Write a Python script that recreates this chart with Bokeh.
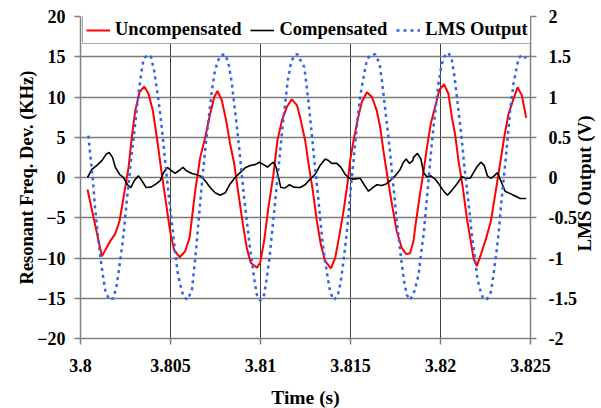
import math
from bokeh.plotting import figure
from bokeh.models import (Range1d, LinearAxis, FixedTicker, Legend, LegendItem, Label)
from bokeh.embed import file_html
from bokeh.resources import INLINE

# ---------------- data ----------------
t_unc = [3.80039, 3.80119, 3.80165, 3.80193, 3.80217, 3.80239, 3.80267, 3.80285, 3.80304, 3.80328,
         3.80354, 3.80378, 3.80402, 3.80424, 3.80452, 3.80476, 3.80498, 3.80520, 3.80550, 3.80581,
         3.80606, 3.80637, 3.80665, 3.80693, 3.80720, 3.80743, 3.80761, 3.80785, 3.80809, 3.80831,
         3.80854, 3.80878, 3.80902, 3.80924, 3.80946, 3.80980, 3.80998, 3.81020, 3.81044, 3.81072,
         3.81094, 3.81119, 3.81146, 3.81174, 3.81202, 3.81220, 3.81248, 3.81267, 3.81291, 3.81313,
         3.81335, 3.81359, 3.81391, 3.81415, 3.81439, 3.81461, 3.81483, 3.81498, 3.81517, 3.81539,
         3.81563, 3.81591, 3.81619, 3.81646, 3.81665, 3.81683, 3.81706, 3.81730, 3.81757, 3.81785,
         3.81809, 3.81831, 3.81850, 3.81859, 3.81883, 3.81906, 3.81928, 3.81946, 3.81970, 3.81994,
         3.82020, 3.82044, 3.82063, 3.82081, 3.82100, 3.82124, 3.82146, 3.82165, 3.82183, 3.82202,
         3.82224, 3.82254, 3.82280, 3.82304, 3.82328, 3.82354, 3.82378, 3.82406, 3.82428, 3.82452,
         3.82476]
unc = [-1.5, -9.8, -7.9, -7.0, -5.4, -2.5, 1.25, 5.0, 8.3, 10.6,
       11.3, 10.4, 8.3, 5.0, 0.4, -3.3, -6.7, -9.0, -9.9, -9.2,
       -7.5, -1.7, 2.5, 5.0, 7.9, 10.0, 10.75, 9.6, 7.1, 4.2,
       1.7, -2.1, -5.8, -8.75, -10.6, -11.2, -10.6, -7.9, -3.75, 0.4,
       4.6, 7.1, 8.75, 9.7, 9.0, 7.5, 4.6, 1.7, -1.7, -5.4,
       -8.3, -10.4, -11.3, -10.0, -7.1, -4.2, -0.8, 2.1, 4.6, 7.1,
       9.4, 10.6, 10.0, 8.3, 6.25, 3.3, 0.0, -3.3, -6.7, -8.75,
       -9.5, -9.4, -7.9, -6.25, -2.5, 0.8, 4.2, 6.7, 8.75, 10.9,
       11.6, 10.4, 7.5, 5.4, 2.1, -1.25, -5.0, -7.5, -10.0, -11.0,
       -9.6, -7.5, -5.4, -2.1, 1.25, 5.0, 7.9, 9.8, 11.2, 10.2,
       7.4]

t_comp = [3.80039, 3.80063, 3.80091, 3.80119, 3.80143, 3.80159, 3.80178, 3.80193, 3.80217, 3.80239,
          3.80261, 3.80280, 3.80298, 3.80322, 3.80341, 3.80365, 3.80391, 3.80420, 3.80443, 3.80461,
          3.80483, 3.80502, 3.80526, 3.80550, 3.80569, 3.80591, 3.80619, 3.80637, 3.80665, 3.80693,
          3.80720, 3.80748, 3.80776, 3.80804, 3.80831, 3.80859, 3.80887, 3.80915, 3.80943, 3.80970,
          3.80994, 3.81017, 3.81039, 3.81054, 3.81072, 3.81087, 3.81100, 3.81113, 3.81137, 3.81161,
          3.81183, 3.81211, 3.81220, 3.81248, 3.81276, 3.81304, 3.81331, 3.81359, 3.81378, 3.81396,
          3.81424, 3.81446, 3.81470, 3.81494, 3.81517, 3.81554, 3.81576, 3.81600, 3.81624, 3.81646,
          3.81674, 3.81698, 3.81720, 3.81748, 3.81776, 3.81794, 3.81809, 3.81828, 3.81846, 3.81850,
          3.81872, 3.81891, 3.81906, 3.81924, 3.81946, 3.81970, 3.81994, 3.82017, 3.82039, 3.82063,
          3.82091, 3.82119, 3.82143, 3.82165, 3.82183, 3.82202, 3.82224, 3.82243, 3.82261, 3.82280,
          3.82298, 3.82317, 3.82335, 3.82359, 3.82387, 3.82415, 3.82443, 3.82476]
comp = [0.0, 1.0, 1.5, 2.1, 2.9, 3.1, 2.5, 1.3, 0.4, 0.0,
        -0.9, -1.25, -0.4, 0.2, -0.4, -1.25, -1.2, -0.8, -0.4, 0.6,
        1.25, 0.9, 0.5, 0.9, 1.25, 0.8, 0.5, 0.4, 0.2, -0.4,
        -1.25, -1.9, -2.2, -1.9, -0.8, 0.0, 0.6, 1.2, 1.5, 1.6,
        1.9, 1.6, 1.3, 1.6, 1.9, 1.25, 0.0, -1.25, -1.3, -0.9,
        -1.2, -1.25, -1.25, -0.9, -0.2, 0.4, 1.5, 2.3, 2.1, 1.75,
        1.75, 1.3, 0.4, -0.1, -0.2, -0.1, -0.9, -1.7, -1.25, -0.9,
        -1.0, -0.8, -0.4, 0.2, 1.0, 1.9, 2.3, 1.75, 2.1, 2.5,
        3.0, 2.3, 0.6, 0.1, 0.2, -0.2, -0.9, -1.7, -2.2, -1.6,
        -0.8, 0.1, -0.1, -0.1, 0.6, 1.3, 1.9, 1.5, 0.2, -0.1,
        0.2, 0.6, -0.4, -1.7, -2.0, -2.3, -2.6, -2.6]

t_lms = [3.80044, 3.80054, 3.80069, 3.80081, 3.80094, 3.80109, 3.80124, 3.80139, 3.80161, 3.80183,
         3.80202, 3.80220, 3.80235, 3.80248, 3.80261, 3.80276, 3.80291, 3.80306, 3.80322, 3.80337,
         3.80350, 3.80369, 3.80391, 3.80409, 3.80428, 3.80443, 3.80457, 3.80470, 3.80483, 3.80498,
         3.80513, 3.80526, 3.80539, 3.80554, 3.80572, 3.80594, 3.80619, 3.80643, 3.80656, 3.80669,
         3.80683, 3.80698, 3.80715, 3.80730, 3.80744, 3.80761, 3.80780, 3.80804, 3.80822, 3.80841,
         3.80856, 3.80869, 3.80883, 3.80896, 3.80909, 3.80924, 3.80939, 3.80954, 3.80967, 3.80980,
         3.80998, 3.81020, 3.81035, 3.81050, 3.81063, 3.81076, 3.81091, 3.81106, 3.81120, 3.81137,
         3.81152, 3.81169, 3.81187, 3.81206, 3.81230, 3.81243, 3.81257, 3.81270, 3.81281, 3.81294,
         3.81307, 3.81319, 3.81331, 3.81344, 3.81359, 3.81374, 3.81387, 3.81406, 3.81428, 3.81446,
         3.81461, 3.81476, 3.81489, 3.81502, 3.81517, 3.81531, 3.81544, 3.81559, 3.81576, 3.81591,
         3.81609, 3.81637, 3.81661, 3.81674, 3.81687, 3.81702, 3.81717, 3.81730, 3.81743, 3.81757,
         3.81772, 3.81785, 3.81798, 3.81813, 3.81831, 3.81854, 3.81878, 3.81891, 3.81906, 3.81920,
         3.81933, 3.81946, 3.81961, 3.81976, 3.81989, 3.82004, 3.82020, 3.82044, 3.82063, 3.82078,
         3.82091, 3.82104, 3.82119, 3.82131, 3.82146, 3.82161, 3.82174, 3.82189, 3.82202, 3.82217,
         3.82235, 3.82257, 3.82280, 3.82294, 3.82309, 3.82322, 3.82335, 3.82350, 3.82365, 3.82378,
         3.82391, 3.82406, 3.82420, 3.82433, 3.82452, 3.82476]
lms = [0.52, 0.29, -0.04, -0.375, -0.67, -0.96, -1.21, -1.42, -1.52, -1.5,
       -1.33, -1.04, -0.79, -0.5, -0.21, 0.125, 0.42, 0.71, 1.04, 1.29,
       1.46, 1.52, 1.5, 1.33, 1.04, 0.79, 0.5, 0.21, -0.08, -0.375,
       -0.67, -0.92, -1.17, -1.33, -1.48, -1.52, -1.4, -0.875, -0.54, -0.21,
       0.125, 0.46, 0.79, 1.08, 1.29, 1.44, 1.52, 1.53, 1.42, 1.17,
       0.875, 0.625, 0.33, 0.04, -0.25, -0.54, -0.83, -1.08, -1.29, -1.46,
       -1.53, -1.46, -1.25, -1.0, -0.71, -0.42, -0.08, 0.25, 0.58, 0.92,
       1.21, 1.42, 1.52, 1.53, 1.42, 1.375, 1.125, 0.875, 0.625, 0.33,
       0.04, -0.21, -0.5, -0.79, -1.04, -1.25, -1.42, -1.52, -1.48, -1.29,
       -1.04, -0.75, -0.46, -0.125, 0.21, 0.54, 0.83, 1.08, 1.29, 1.46,
       1.52, 1.53, 1.42, 1.21, 0.96, 0.67, 0.375, 0.08, -0.21, -0.54,
       -0.83, -1.08, -1.29, -1.46, -1.52, -1.42, -1.21, -0.96, -0.71, -0.375,
       -0.04, 0.29, 0.625, 0.92, 1.17, 1.375, 1.5, 1.55, 1.46, 1.25,
       1.0, 0.75, 0.46, 0.17, -0.125, -0.42, -0.71, -0.96, -1.21, -1.375,
       -1.49, -1.52, -1.42, -1.21, -0.96, -0.71, -0.375, -0.04, 0.29, 0.625,
       0.92, 1.17, 1.33, 1.48, 1.52, 1.48]

x_ticks = [3.8, 3.805, 3.81, 3.815, 3.82, 3.825]
x_tick_labels = ["3.8", "3.805", "3.81", "3.815", "3.82", "3.825"]
y_ticks = [-20, -15, -10, -5, 0, 5, 10, 15, 20]
y2_ticks = [-2, -1.5, -1, -0.5, 0, 0.5, 1, 1.5, 2]
y2_tick_labels = ["-2", "-1.5", "-1", "-0.5", "0", "0.5", "1", "1.5", "2"]

series_names = ["Uncompensated", "Compensated", "LMS Output"]
x_title = "Time (s)"
y_title = "Resonant Freq. Dev. (KHz)"
y2_title = "LMS Output (V)"

# ---------------- figure ----------------
FONT = "Liberation Serif"
FW, FH = 450, 322

p = figure(frame_width=FW, frame_height=FH,
           x_range=Range1d(3.8, 3.825), y_range=Range1d(-20, 20),
           output_backend="svg", toolbar_location=None,
           min_border_left=80, min_border_right=68, min_border_top=16, min_border_bottom=20)
p.extra_y_ranges = {"v": Range1d(-2, 2)}
p.outline_line_color = None
p.background_fill_color = "white"
p.border_fill_color = "white"


def style_axis(ax):
    ax.axis_line_color = "#808080"
    ax.axis_line_width = 1.5
    ax.major_tick_line_color = "#808080"
    ax.major_tick_line_width = 1.5
    ax.major_tick_out = 6
    ax.major_tick_in = 0
    ax.minor_tick_line_color = None
    ax.major_label_text_font = FONT
    ax.major_label_text_font_style = "bold"
    ax.major_label_text_font_size = "18px"
    ax.major_label_text_color = "black"
    ax.axis_label_text_font = FONT
    ax.axis_label_text_font_style = "bold"
    ax.axis_label_text_font_size = "19.5px"
    ax.axis_label_text_color = "black"


xa = p.xaxis[0]
xa.ticker = FixedTicker(ticks=x_ticks)
xa.major_label_overrides = {t: s for t, s in zip(x_ticks, x_tick_labels)}
xa.axis_label = x_title
xa.major_label_standoff = 14
xa.axis_label_standoff = 12
style_axis(xa)

ya = p.yaxis[0]
ya.ticker = FixedTicker(ticks=y_ticks)
ya.axis_label = y_title
ya.major_label_standoff = 9
ya.axis_label_standoff = -3
style_axis(ya)
ya.axis_label_text_font_size = "18.5px"

ya2 = LinearAxis(y_range_name="v", ticker=FixedTicker(ticks=y2_ticks))
ya2.major_label_overrides = {t: s for t, s in zip(y2_ticks, y2_tick_labels)}
ya2.major_label_standoff = 12
style_axis(ya2)
p.add_layout(ya2, "right")

# right-hand title, reading bottom-to-top, centred on the frame height
p.add_layout(Label(x=5, y=FH / 2 - 6, x_units="screen", y_units="screen",
                   text=y2_title, angle=90, angle_units="deg",
                   text_align="center", text_baseline="middle",
                   text_font=FONT, text_font_style="bold", text_font_size="19px",
                   text_color="black"), "right")

p.xgrid.ticker = FixedTicker(ticks=x_ticks)
p.xgrid.grid_line_color = "#404040"
p.xgrid.grid_line_width = 1
p.ygrid.ticker = FixedTicker(ticks=y_ticks)
p.ygrid.grid_line_color = "#7a7a7a"
p.ygrid.grid_line_width = 1.5

r_unc = p.line(t_unc, unc, line_color="#ff0000", line_width=2)
r_comp = p.line(t_comp, comp, line_color="black", line_width=1.6)
r_lms = p.line(t_lms, lms, y_range_name="v", line_color="#2f62f0", line_width=2.5,
               line_dash="3 4")

legend = Legend(items=[LegendItem(label=series_names[0], renderers=[r_unc]),
                       LegendItem(label=series_names[1], renderers=[r_comp]),
                       LegendItem(label=series_names[2], renderers=[r_lms])],
                orientation="horizontal", location=(2, FH - 28),
                margin=0, padding=3, spacing=9, glyph_width=24, glyph_height=20,
                label_standoff=5, label_height=20,
                label_text_font=FONT, label_text_font_style="bold",
                label_text_font_size="18.5px", label_text_color="black",
                border_line_color="#555555", border_line_width=1,
                background_fill_color="white", background_fill_alpha=1)
p.add_layout(legend, "center")

open("out.html", "w").write(file_html(p, INLINE))
